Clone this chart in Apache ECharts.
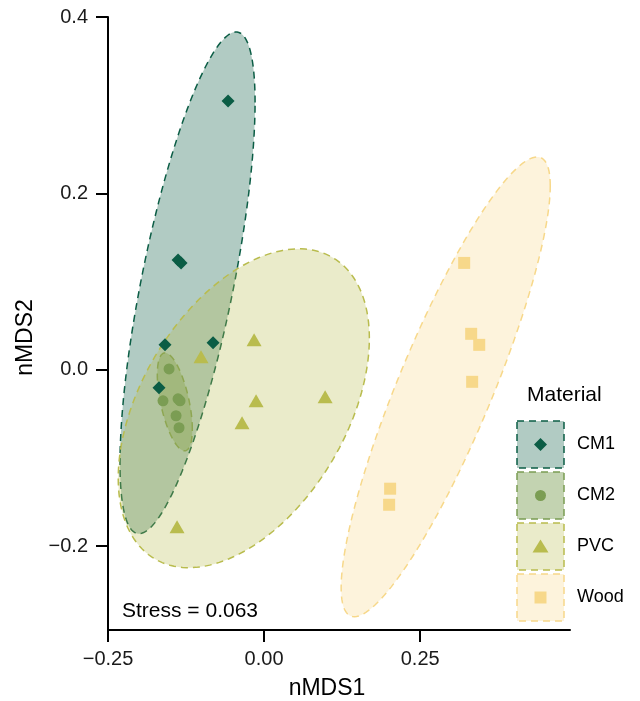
<!DOCTYPE html>
<html>
<head>
  <meta charset="utf-8">
</head>
<body style="margin: 0">
  <div id="container" style="width: 640px; height: 701px"></div>
  <script src="https://cdn.jsdelivr.net/npm/echarts@6/dist/echarts.min.js"></script>
  <script>
    var groups = ['CM1', 'CM2', 'PVC', 'Wood'];

    // nMDS scores, [nMDS1, nMDS2]
    var cm1Points = [[-0.0577, 0.3048], [-0.1378, 0.1246], [-0.1330, 0.1212], [-0.1587, 0.0283], [-0.0817, 0.0306], [-0.1683, -0.0204]];
    var cm2Points = [[-0.1522, 0.0010], [-0.1619, -0.0351], [-0.1378, -0.0329], [-0.1346, -0.0351], [-0.1410, -0.0521], [-0.1362, -0.0657]];
    var pvcPoints = [[-0.1010, 0.0147], [-0.0160, 0.0340], [-0.0128, -0.0351], [-0.0353, -0.0601], [0.0978, -0.0306], [-0.1394, -0.1779]];
    var woodPoints = [[0.3205, 0.1212], [0.3317, 0.0408], [0.3446, 0.0283], [0.3333, -0.0136], [0.2019, -0.1348], [0.2003, -0.1530]];

    // ellipse per group: [centre x, centre y, var x, var y, cov xy]
    var cm1Ellipse = [-0.1226, 0.0986, 0.011701, 0.080895, 0.022107];
    var cm2Ellipse = [-0.1430, -0.0363, 0.000786, 0.003083, -0.000868];
    var pvcEllipse = [-0.0325, -0.0436, 0.040450, 0.032666, 0.015953];
    var woodEllipse = [0.2909, -0.0193, 0.028045, 0.067924, 0.038135];

    var xTicks = [-0.25, 0, 0.25];
    var yTicks = [-0.2, 0, 0.2, 0.4];
    var stress = 0.063;

    var pointSets = [cm1Points, cm2Points, pvcPoints, woodPoints];
    var ellipseSets = [cm1Ellipse, cm2Ellipse, pvcEllipse, woodEllipse];

    var colors = ['#0b5d45', '#7b9d53', '#b9bc4e', '#f7d88a'];
    var fills = ['rgba(11,93,69,0.32)', 'rgba(123,157,83,0.45)', 'rgba(185,188,78,0.3)', 'rgba(247,216,138,0.3)'];
    var symbols = ['diamond', 'circle', 'triangle', 'rect'];
    var symbolSizes = [13, 11, [15, 13], 12];
    var font = '"Liberation Sans", Arial, sans-serif';

    var dom = document.getElementById('container');
    var myChart = echarts.init(dom, null, { renderer: 'canvas' });

    function fmt(digits) {
      return function (v) {
        return (v < 0 ? '\u2212' : '') + Math.abs(v).toFixed(digits);
      };
    }

    function ellipseRenderer(k) {
      return function (params, api) {
        var cx = api.value(0), cy = api.value(1);
        var sxx = api.value(2), syy = api.value(3), sxy = api.value(4);
        var l11 = Math.sqrt(sxx);
        var l21 = sxy / l11;
        var l22 = Math.sqrt(syy - l21 * l21);
        var pts = [];
        for (var i = 0; i < 160; i++) {
          var t = i / 160 * Math.PI * 2;
          pts.push(api.coord([cx + l11 * Math.cos(t), cy + l21 * Math.cos(t) + l22 * Math.sin(t)]));
        }
        return {
          type: 'polygon',
          shape: { points: pts },
          style: { fill: fills[k], stroke: colors[k], lineWidth: 1.5, lineDash: [7, 5] }
        };
      };
    }

    var series = [];
    groups.forEach(function (g, k) {
      series.push({
        name: g + ' ellipse',
        type: 'custom',
        renderItem: ellipseRenderer(k),
        encode: { x: 0, y: 1 },
        data: [ellipseSets[k]],
        z: 1,
        silent: true
      });
    });
    groups.forEach(function (g, k) {
      series.push({
        name: g,
        type: 'scatter',
        symbol: symbols[k],
        symbolSize: symbolSizes[k],
        itemStyle: { color: colors[k], opacity: 1 },
        data: pointSets[k],
        z: 3
      });
    });

    // legend drawn by hand: dashed box, marker, label
    var legendItems = [];
    var boxX = 517, boxTop = 421, boxSize = 47, step = 51;
    groups.forEach(function (g, k) {
      var y0 = boxTop + k * step;
      var cx = boxX + boxSize / 2, cy = y0 + boxSize / 2;
      legendItems.push({
        type: 'rect',
        shape: { x: boxX, y: y0, width: boxSize, height: boxSize },
        style: { fill: fills[k], stroke: colors[k], lineWidth: 1.5, lineDash: [7, 5] }
      });
      var mark;
      if (k === 0) {
        mark = { type: 'polygon', shape: { points: [[cx, cy - 6.5], [cx + 6.5, cy], [cx, cy + 6.5], [cx - 6.5, cy]] } };
      } else if (k === 1) {
        mark = { type: 'circle', shape: { cx: cx, cy: cy, r: 5.5 } };
      } else if (k === 2) {
        mark = { type: 'polygon', shape: { points: [[cx, cy - 7], [cx + 8, cy + 6], [cx - 8, cy + 6]] } };
      } else {
        mark = { type: 'rect', shape: { x: cx - 6, y: cy - 6, width: 12, height: 12 } };
      }
      mark.style = { fill: colors[k] };
      legendItems.push(mark);
      legendItems.push({
        type: 'text',
        x: 577, y: cy,
        style: { text: g, font: '18px ' + font, fill: '#000', verticalAlign: 'middle' }
      });
    });
    legendItems.push({
      type: 'text',
      x: 527, y: 395,
      style: { text: 'Material', font: '21px ' + font, fill: '#000', verticalAlign: 'middle' }
    });
    legendItems.push({
      type: 'text',
      x: 122, y: 611,
      style: { text: 'Stress = ' + stress.toFixed(3), font: '21px ' + font, fill: '#000', verticalAlign: 'middle' }
    });

    var axisCommon = {
      type: 'value',
      nameLocation: 'middle',
      splitLine: { show: false },
      axisLine: { show: true, onZero: false, lineStyle: { color: '#000', width: 2 } }
    };

    var option = {
      animation: false,
      textStyle: { fontFamily: font },
      grid: { left: 108, right: 70, top: 17, bottom: 71, containLabel: false, outerBoundsMode: 'none' },
      xAxis: Object.assign({}, axisCommon, {
        min: -0.25,
        max: 0.49,
        name: 'nMDS1',
        nameGap: 47,
        nameTextStyle: { fontSize: 23, color: '#000', padding: [0, 24, 0, 0] },
        axisTick: { show: true, length: 12, customValues: xTicks, lineStyle: { color: '#000', width: 2 } },
        axisLabel: { customValues: xTicks, formatter: fmt(2), fontSize: 20, color: '#1a1a1a', margin: 19 }
      }),
      yAxis: Object.assign({}, axisCommon, {
        min: -0.295,
        max: 0.4,
        name: 'nMDS2',
        nameGap: 69,
        nameTextStyle: { fontSize: 23, color: '#000', padding: [0, 28, 0, 0] },
        axisTick: { show: true, length: 12, customValues: yTicks, lineStyle: { color: '#000', width: 2 } },
        axisLabel: { customValues: yTicks, formatter: fmt(1), fontSize: 20, color: '#1a1a1a', margin: 20 }
      }),
      graphic: { elements: legendItems },
      series: series
    };

    myChart.setOption(option);
    window.addEventListener('resize', myChart.resize);
  </script>
</body>
</html>
